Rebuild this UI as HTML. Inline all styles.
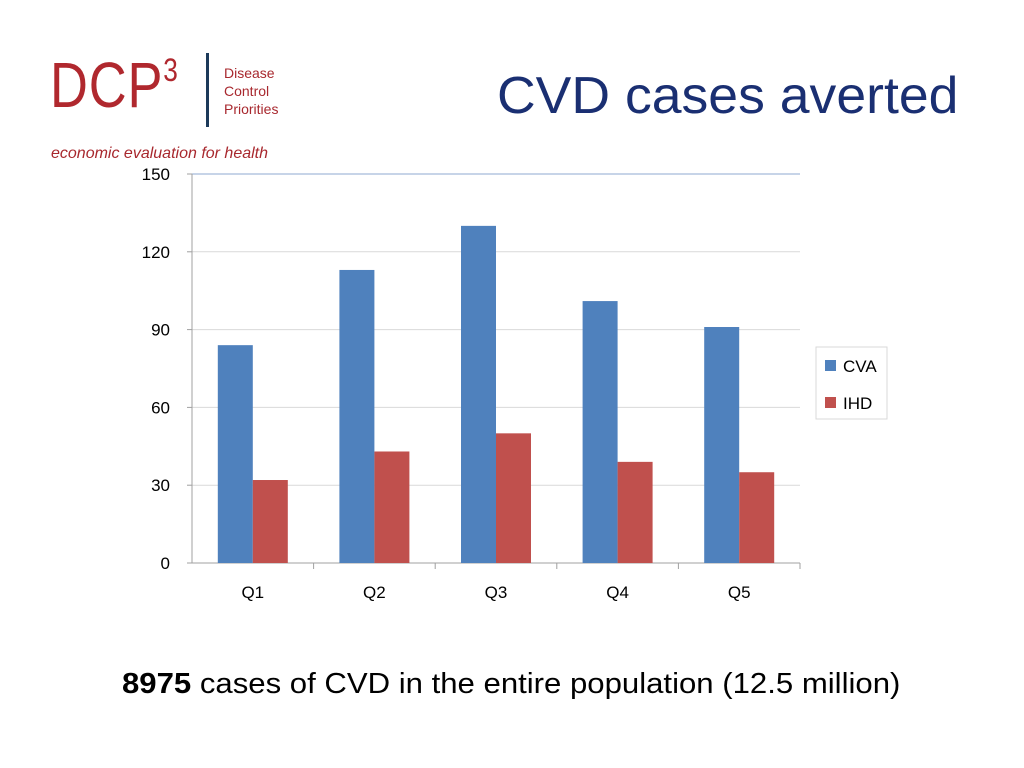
<!DOCTYPE html>
<html><head><meta charset="utf-8"><style>
body{margin:0;width:1024px;height:768px;background:#fff;position:relative;overflow:hidden;font-family:"Liberation Sans",sans-serif}
.t{position:absolute;white-space:nowrap}
</style></head><body>
<div>
<div class="t" style="left:50px;top:48px;font-size:64px;color:#b0282e;letter-spacing:1px;transform:scaleX(0.82);transform-origin:left">DCP<span style="font-size:32px;vertical-align:26px">3</span></div>
<div style="position:absolute;left:206px;top:53px;width:3px;height:74px;background:#1d3a5a"></div>
<div class="t" style="left:224px;top:64px;font-size:14px;line-height:18px;color:#a8282e">Disease<br>Control<br>Priorities</div>
<div class="t" style="left:51px;top:145px;font-size:16px;font-style:italic;color:#a8282e">economic evaluation for health</div>
</div>
<div class="t" style="left:497px;top:66px;font-size:52px;color:#1a2f72;transform:scaleX(1.03);transform-origin:left">CVD cases averted</div>
<svg id="c" width="1024" height="768" style="position:absolute;left:0;top:0"></svg>
<div class="t" style="left:122px;top:668px;font-size:29px;color:#000;transform:scaleX(1.073);transform-origin:left"><b>8975</b> cases of CVD in the entire population (12.5 million)</div>
<script>
const categories=["Q1","Q2","Q3","Q4","Q5"];
const cvaValues=[84,113,130,101,91];
const ihdValues=[32,43,50,39,35];
const yTicks=[0,30,60,90,120,150];
const seriesNames=["CVA","IHD"];
const svg=document.getElementById('c');const NS='http://www.w3.org/2000/svg';
const x0=192,x1=800,y0=563,y1=174,ymax=150;
const y=v=>y0-(v/ymax)*(y0-y1);
const band=(x1-x0)/categories.length;
function mk(t,a){const e=document.createElementNS(NS,t);for(const k in a)e.setAttribute(k,a[k]);svg.appendChild(e);return e;}
yTicks.forEach(v=>{
 if(v>0){const g=mk('line',{x1:x0,x2:x1,y1:y(v),y2:y(v),stroke:v==150?'#8fa8d0':'#d9d9d9','stroke-width':1});
 
 }
 const tk=mk('line',{x1:x0-5,x2:x0,y1:y(v),y2:y(v),stroke:'#a0a0a0'});
 
 
 const t=mk('text',{x:x0-22,y:y(v)+6,'text-anchor':'end','font-size':17,'font-family':'Liberation Sans, sans-serif',fill:'#000'});t.textContent=v;
 
 
});
const ya=mk('line',{x1:x0,x2:x0,y1:y1,y2:y0,stroke:'#a0a0a0'});


const xa=mk('line',{x1:x0,x2:x1,y1:y0,y2:y0,stroke:'#a0a0a0'});


const bw=35;
categories.forEach((c,i)=>{
 const cx=x0+band*(i+0.5);
 const tk=mk('line',{x1:x0+band*(i+1),x2:x0+band*(i+1),y1:y0,y2:y0+6,stroke:'#a0a0a0'});
 
 
 const b1=mk('rect',{x:cx-bw,y:y(cvaValues[i]),width:bw,height:y0-y(cvaValues[i]),fill:'#4f81bd'});
 
 
 const b2=mk('rect',{x:cx,y:y(ihdValues[i]),width:bw,height:y0-y(ihdValues[i]),fill:'#c0504d'});
 
 
 const t=mk('text',{x:cx,y:598,'text-anchor':'middle','font-size':17,'font-family':'Liberation Sans, sans-serif'});t.textContent=c;
 
 
});
const lg=mk('rect',{x:816,y:347,width:71,height:72,fill:'#fff',stroke:'#d9d9d9'});


const cols=['#4f81bd','#c0504d'];
seriesNames.forEach((n,i)=>{
 const r=mk('rect',{x:825,y:360+i*37,width:11,height:11,fill:cols[i]});
 
 
 const t=mk('text',{x:843,y:372+i*37,'font-size':17,'font-family':'Liberation Sans, sans-serif'});t.textContent=n;
 
 
});
</script>
</body></html>
